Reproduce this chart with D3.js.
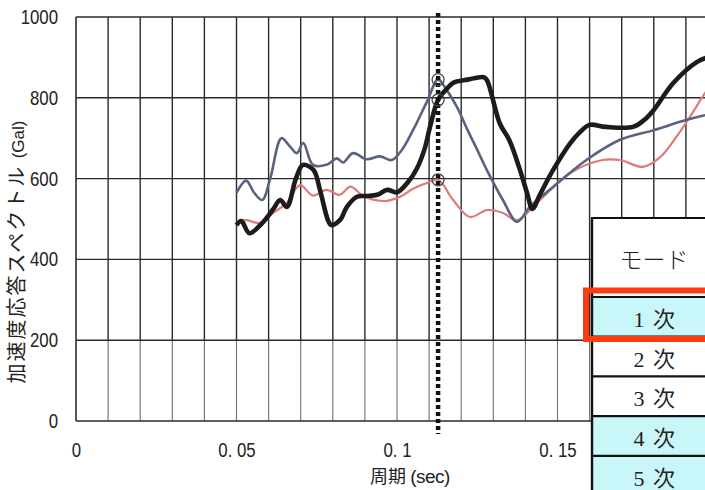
<!DOCTYPE html>
<html>
<head>
<meta charset="utf-8">
<script src="https://cdn.jsdelivr.net/npm/d3@7"></script>
<style>
  html, body { margin: 0; padding: 0; background: #fff; }
  svg { display: block; }
</style>
</head>
<body>
<svg id="chart" width="705" height="490"></svg>
<script>
// Acceleration response spectra (period in sec, value in Gal)
const seriesBlack = [
  [0.050,485],[0.0515,495],[0.054,465],[0.058,490],[0.0615,525],[0.0636,547],[0.0657,530],
  [0.0685,600],[0.0707,634],[0.074,621],[0.076,572],[0.0785,497],[0.0795,485],[0.0822,497],
  [0.0844,530],[0.0875,555],[0.0906,557],[0.0938,560],[0.097,572],[0.100,566],[0.1035,592],
  [0.1062,625],[0.1085,671],[0.1105,735],[0.1128,795],[0.1155,822],[0.1175,837],[0.122,845],
  [0.127,851],[0.128,844],[0.132,737],[0.135,695],[0.138,629],[0.1405,565],[0.1422,525],
  [0.1445,560],[0.1486,621],[0.154,688],[0.157,715],[0.160,733],[0.165,728],[0.1735,728],
  [0.177,745],[0.180,770],[0.186,836],[0.1935,889],[0.197,900],[0.200,900]
];
const seriesBlue = [
  [0.050,565],[0.053,595],[0.0555,565],[0.058,547],[0.0605,600],[0.064,700],[0.0667,679],
  [0.0688,663],[0.0708,688],[0.0738,634],[0.078,634],[0.0813,650],[0.0832,640],[0.0863,663],
  [0.0906,648],[0.0947,655],[0.0984,646],[0.1015,671],[0.105,720],[0.1093,790],[0.1128,845],
  [0.1155,819],[0.1187,777],[0.122,720],[0.125,671],[0.128,621],[0.133,547],[0.1374,493],
  [0.1414,530],[0.1486,579],[0.159,646],[0.1695,696],[0.180,720],[0.190,745],[0.196,757],[0.200,765]
];
const seriesPink = [
  [0.050,493],[0.0533,497],[0.0573,490],[0.0614,515],[0.0657,540],[0.0698,584],[0.0738,558],
  [0.078,572],[0.0822,560],[0.0855,580],[0.089,560],[0.0925,548],[0.0969,545],[0.101,555],
  [0.105,575],[0.1093,589],[0.1128,597],[0.1175,547],[0.1227,505],[0.128,522],[0.133,515],
  [0.1374,497],[0.1436,540],[0.154,614],[0.164,646],[0.1695,646],[0.1766,629],[0.182,653],
  [0.187,703],[0.192,762],[0.196,812],[0.200,850]
];

// Natural period of the 1st mode and the spectral values picked there
const modePeriod = 0.1128;
const modeValues = [845, 795, 597];

// Axis ticks
const xTicks = [0, 0.05, 0.1, 0.15];
const xTickLabels = ["0", "0. 05", "0. 1", "0. 15"];
const yTicks = [0, 200, 400, 600, 800, 1000];
const xGrid = d3.range(0, 0.2, 0.01);

// Mode table
const modeHeader = "モード";
const modeRows = ["1 次", "2 次", "3 次", "4 次", "5 次"];
const modeShaded = [true, false, false, true, true];

const svg = d3.select("#chart");
const W = 705, H = 490;
const plotLeft = 76, plotTop = 17, plotBottom = 421;

const x = d3.scaleLinear().domain([0, 0.2]).range([plotLeft, plotLeft + 642]);
const y = d3.scaleLinear().domain([0, 1000]).range([plotBottom, plotTop]);

const tickFont = "'Liberation Sans',Arial,sans-serif";
const narrow = 0.82;   // horizontal squeeze for the condensed tick lettering

// grid
const grid = svg.append("g");
grid.selectAll("line.v").data(xGrid).join("line")
  .attr("x1", d => x(d)).attr("x2", d => x(d))
  .attr("y1", y(1000)).attr("y2", y(200))
  .attr("stroke", "#2a2a2a").attr("stroke-width", d => d === 0 ? 1.6 : 1.4);
grid.selectAll("line.vl").data(xGrid).join("line")
  .attr("x1", d => x(d)).attr("x2", d => x(d))
  .attr("y1", y(200)).attr("y2", y(0))
  .attr("stroke", d => d === 0 ? "#2a2a2a" : "#707070").attr("stroke-width", d => d === 0 ? 1.6 : 1.1);
grid.selectAll("line.h").data(yTicks).join("line")
  .attr("x1", plotLeft).attr("x2", W)
  .attr("y1", d => y(d)).attr("y2", d => y(d))
  .attr("stroke", "#2a2a2a").attr("stroke-width", 1.4);

// axes (labels only)
const yPad = 18;
const yAxis = d3.axisLeft(y).tickValues(yTicks).tickSize(0).tickPadding(yPad).tickFormat(d3.format("d"));
const gy = svg.append("g").attr("transform", `translate(${plotLeft},0)`).call(yAxis);
gy.select(".domain").remove();
gy.selectAll("text").attr("font-family", tickFont).attr("font-size", 20.5).attr("fill", "#222")
  .attr("x", -yPad / narrow).attr("transform", `scale(${narrow},1)`);

const xAxis = d3.axisBottom(x).tickValues(xTicks).tickSize(0).tickPadding(21)
  .tickFormat((d, i) => xTickLabels[i]);
const gx = svg.append("g").attr("transform", `translate(0,${plotBottom})`).call(xAxis);
gx.select(".domain").remove();
gx.selectAll("text").attr("font-family", tickFont).attr("font-size", 20.5).attr("fill", "#222")
  .attr("transform", `scale(${narrow},1)`);

// axis titles
const xt = svg.append("text")
  .attr("x", 410).attr("y", 483)
  .attr("text-anchor", "middle")
  .attr("fill", "#222");
xt.append("tspan").attr("font-family", "'Noto Sans CJK JP', sans-serif").attr("font-size", 18).text("周期 ");
xt.append("tspan").attr("font-family", tickFont).attr("font-size", 19).attr("letter-spacing", -0.5).text("(sec)");

const yt = svg.append("text")
  .attr("transform", "translate(24,252) rotate(-90)")
  .attr("text-anchor", "middle")
  .attr("fill", "#222");
yt.append("tspan").attr("font-family", "'Noto Sans CJK JP', sans-serif").attr("font-size", 20)
  .attr("letter-spacing", 2).text("加速度応答スペクトル ");
yt.append("tspan").attr("font-family", tickFont).attr("font-size", 17).text("(Gal)");

// curves
svg.append("clipPath").attr("id", "plotclip")
  .append("rect").attr("x", plotLeft).attr("y", 0).attr("width", W - plotLeft).attr("height", plotBottom + 5);

const line = d3.line().x(d => x(d[0])).y(d => y(d[1])).curve(d3.curveCatmullRom.alpha(0.5));
const curves = svg.append("g").attr("clip-path", "url(#plotclip)");

curves.append("path").datum(seriesPink)
  .attr("d", line).attr("fill", "none")
  .attr("stroke", "#e07a7a").attr("stroke-width", 2.2).attr("stroke-linejoin", "round");
curves.append("path").datum(seriesBlue)
  .attr("d", line).attr("fill", "none")
  .attr("stroke", "#5a6282").attr("stroke-width", 2.6).attr("stroke-linejoin", "round");
curves.append("path").datum(seriesBlack)
  .attr("d", line).attr("fill", "none")
  .attr("stroke", "#1c1c1c").attr("stroke-width", 4.6).attr("stroke-linejoin", "round");

// period of 1st mode (dotted)
svg.append("line")
  .attr("x1", x(modePeriod)).attr("x2", x(modePeriod))
  .attr("y1", 13).attr("y2", 434)
  .attr("stroke", "#111").attr("stroke-width", 4.5)
  .attr("stroke-dasharray", "4 3");

svg.append("g").selectAll("circle").data(modeValues).join("circle")
  .attr("cx", x(modePeriod)).attr("cy", d => y(d)).attr("r", 6)
  .attr("fill", "none").attr("stroke", "#444").attr("stroke-width", 1.3);

// mode table
const tbl = svg.append("g");
const tx = 592, tTop = 218, headerBottom = 297, rowH = 39.7;
tbl.append("rect").attr("x", tx).attr("y", tTop).attr("width", W - tx + 10).attr("height", headerBottom - tTop)
  .attr("fill", "#fff");
tbl.selectAll("rect.row").data(modeRows).join("rect")
  .attr("x", tx).attr("y", (d, i) => headerBottom + i * rowH)
  .attr("width", W - tx + 10).attr("height", rowH)
  .attr("fill", (d, i) => modeShaded[i] ? "#c9f7f9" : "#fff");
// horizontal rules
const rules = [tTop, headerBottom].concat(modeRows.map((d, i) => headerBottom + (i + 1) * rowH));
tbl.selectAll("line.r").data(rules).join("line")
  .attr("x1", tx).attr("x2", W + 5)
  .attr("y1", d => d).attr("y2", d => d)
  .attr("stroke", "#111").attr("stroke-width", 2.2);
tbl.append("line").attr("x1", tx).attr("x2", tx).attr("y1", tTop - 1).attr("y2", H + 5)
  .attr("stroke", "#111").attr("stroke-width", 2.4);

const tableFont = "'Liberation Serif','DejaVu Serif','Noto Sans CJK JP',serif";
tbl.append("text").attr("x", 654).attr("y", 268).attr("text-anchor", "middle")
  .attr("font-family", "'Noto Sans CJK JP', sans-serif").attr("font-weight", 300)
  .attr("font-size", 23).attr("fill", "#222").text(modeHeader);
tbl.selectAll("text.m").data(modeRows).join("text")
  .attr("x", 655).attr("y", (d, i) => headerBottom + i * rowH + 30)
  .attr("text-anchor", "middle")
  .attr("font-family", tableFont).attr("font-size", 22).attr("letter-spacing", 1.5).attr("fill", "#222")
  .text(d => d);

// highlighted row frame
tbl.append("rect")
  .attr("x", 586).attr("y", 290.5).attr("width", 200).attr("height", 48.5)
  .attr("fill", "none").attr("stroke", "#ff3a10").attr("stroke-width", 6);
</script>
</body>
</html>
